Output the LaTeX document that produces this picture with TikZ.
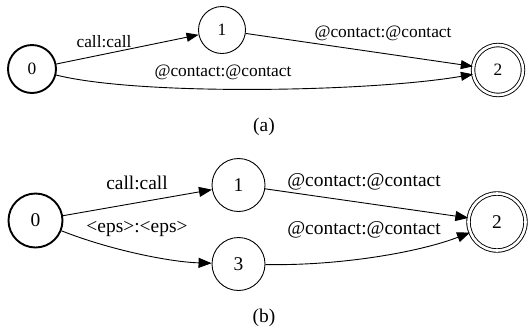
\documentclass[tikz,border=0pt]{standalone}
\usepackage{fontspec}
\setmainfont{Liberation Serif}
\usetikzlibrary{arrows.meta}
\tikzset{
  st/.style={circle, draw, line width=0.9bp, inner sep=0pt},
  ststart/.style={st, line width=1.9bp},
  stfinal/.style={circle, draw, line width=0.9bp, double, double distance=2.6bp, inner sep=0pt},
  fa/.style={font=\fontsize{17.4}{20}\selectfont},
  fb/.style={font=\fontsize{19.5}{22}\selectfont},
  ea/.style={draw, line width=0.9bp, -{Triangle[length=12bp,width=9bp]}},
  eb/.style={draw, line width=0.9bp, -{Triangle[length=13bp,width=10bp]}},
  lbl/.style={inner sep=0pt},
}
\begin{document}
\begin{tikzpicture}[x=1bp,y=-1bp]
\path[use as bounding box] (0,0) rectangle (528,329);
% (a)
\node[ststart, fa, minimum size=48bp] (a0) at (32,69) {0};
\node[st, fa, minimum size=47bp] (a1) at (222,30) {1};
\node[stfinal, fa, minimum size=50bp] (a2) at (498,70) {2};
\draw[ea] (a0) -- (a1);
\draw[ea] (a1) -- (a2);
\draw[ea] (a0) .. controls (140,96) and (370,92) .. (a2);
\node[lbl, fa] (la01) at (104,42) {call:call};
\node[lbl, fa] (la12) at (383,33) {@contact:@contact};
\node[lbl, fa] (la02) at (223,72) {@contact:@contact};
\node[lbl, fb] (capa) at (264,127) {(a)};
% (b)
\node[ststart, fb, minimum size=54bp] (b0) at (35.5,220.5) {0};
\node[st, fb, minimum size=53bp] (b1) at (238.5,185) {1};
\node[st, fb, minimum size=53bp] (b3) at (238.5,264) {3};
\node[stfinal, fb, minimum size=57bp] (b2) at (497,222) {2};
\draw[eb] (b0) -- (b1);
\draw[eb] (b1) -- (b2);
\draw[eb] (b0) .. controls (110,250) and (170,262) .. (b3);
\draw[eb] (b3) .. controls (340,266) and (420,252) .. (b2);
\node[lbl, fb] (lb01) at (137,183) {call:call};
\node[lbl, fb] (lb03) at (137,229) {<eps>:<eps>};
\node[lbl, fb] (lb12) at (364,182) {@contact:@contact};
\node[lbl, fb] (lb32) at (364,230) {@contact:@contact};
\node[lbl, fb] (capb) at (264,318) {(b)};
\end{tikzpicture}
\end{document}
